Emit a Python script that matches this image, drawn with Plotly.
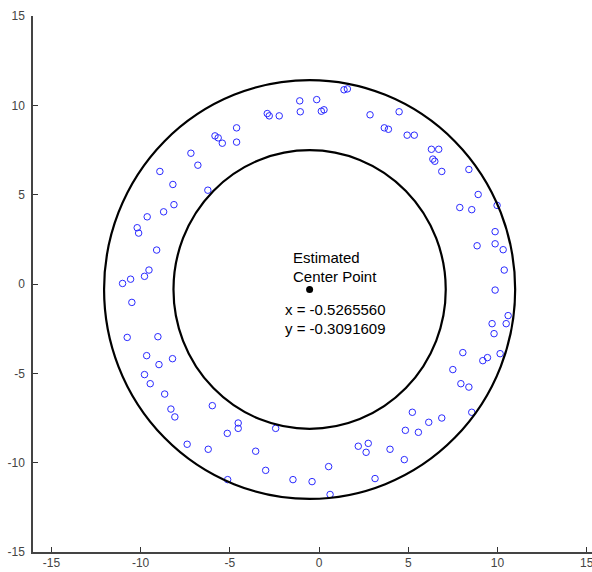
import plotly.graph_objects as go

# ---- data ----
pts_x = [-8.92, -7.18, -6.79, -8.19, 1.40, 1.59, -1.08, -0.13, -1.05, 0.13,
         0.28, -2.90, -2.79, -2.23, 2.86, 3.66, 3.89, 4.49, -4.62, -4.62,
         -5.83, -5.65, -5.42, -6.23, 4.94, 5.34, 6.30, 6.71, 6.38, 6.49,
         6.88, 8.40, 8.92, -8.13, -8.71, -9.63, -10.19, -10.11, -9.10, -9.53,
         -9.78, -10.56, -11.01, -10.49, -10.75, -9.03, -9.66, -8.21, -8.97, -9.78,
         -9.46, 7.89, 8.56, 9.98, 9.87, 8.86, 9.87, 10.32, 10.38, 9.87,
         10.60, 10.49, 9.70, 9.81, 8.06, 10.15, 9.18, 9.44, 7.50, 7.95,
         8.40, -8.65, -8.30, -8.08, -7.39, -5.98, -4.53, -4.53, -5.14, -2.43,
         -6.21, -3.55, -2.99, -5.12, -1.46, -0.39, 0.54, 0.62, 2.20, 2.76,
         2.64, 3.14, 3.98, 5.23, 6.88, 6.15, 8.56, 4.84, 5.57, 4.78]
pts_y = [6.30, 7.32, 6.65, 5.57, 10.87, 10.92, 10.25, 10.32, 9.64, 9.67,
         9.75, 9.54, 9.41, 9.41, 9.47, 8.74, 8.66, 9.64, 8.74, 7.94,
         8.29, 8.18, 7.88, 5.25, 8.33, 8.33, 7.54, 7.54, 6.99, 6.87,
         6.30, 6.41, 5.01, 4.44, 4.04, 3.76, 3.15, 2.85, 1.90, 0.78,
         0.43, 0.27, 0.03, -1.03, -2.99, -2.95, -4.01, -4.18, -4.51, -5.07,
         -5.58, 4.28, 4.16, 4.40, 2.93, 2.14, 2.25, 1.92, 0.78, -0.34,
         -1.77, -2.22, -2.22, -2.78, -3.84, -3.90, -4.29, -4.12, -4.79, -5.58,
         -5.77, -6.16, -7.00, -7.44, -8.97, -6.81, -7.78, -8.08, -8.36, -8.08,
         -9.25, -9.36, -10.43, -10.95, -10.95, -11.06, -10.22, -11.78, -9.08, -8.92,
         -9.42, -10.89, -9.25, -7.18, -7.50, -7.74, -7.18, -8.19, -8.30, -9.83]

center_x = -0.5265560
center_y = -0.3091609
outer_radius_x = 11.52
outer_radius_y = 11.72
inner_radius_x = 7.63
inner_radius_y = 7.80

tick_values = [-15, -10, -5, 0, 5, 10, 15]
tick_labels = ["-15", "-10", "-5", "0", "5", "10", "15"]

label_lines = ["Estimated", "Center Point",
               "x = %.7f" % center_x, "y = %.7f" % center_y]
label_x = [-1.50, -1.54, -1.99, -1.97]
label_y = [1.50, 0.41, -1.42, -2.49]

FONT = "Liberation Sans, Arial, sans-serif"

fig = go.Figure()

fig.add_trace(go.Scatter(
    x=pts_x, y=pts_y, mode="markers",
    marker=dict(symbol="circle-open", size=6.5, color="#2a2aff",
                line=dict(width=1, color="#2a2aff")),
    hoverinfo="skip", showlegend=False))

fig.add_trace(go.Scatter(
    x=[center_x], y=[center_y], mode="markers",
    marker=dict(symbol="circle", size=7, color="black"),
    hoverinfo="skip", showlegend=False))

for rx, ry in [(outer_radius_x, outer_radius_y), (inner_radius_x, inner_radius_y)]:
    fig.add_shape(type="circle", xref="x", yref="y",
                  x0=center_x - rx, x1=center_x + rx,
                  y0=center_y - ry, y1=center_y + ry,
                  line=dict(color="black", width=2.2), layer="above")

for txt, tx, ty in zip(label_lines, label_x, label_y):
    fig.add_annotation(x=tx, y=ty, xref="x", yref="y", text=txt,
                       showarrow=False, xanchor="left", yanchor="middle",
                       borderpad=0,
                       font=dict(family=FONT, size=15, color="black"))

axis_common = dict(
    tickvals=tick_values, ticktext=tick_labels,
    ticks="inside", ticklen=5, tickwidth=1, tickcolor="#333333",
    showline=True, linecolor="#444444", linewidth=1.5,
    showgrid=False, zeroline=False, automargin=False,
    tickfont=dict(family=FONT, size=12, color="#444444"),
    ticklabeloverflow="allow",
    fixedrange=True,
)

fig.update_layout(
    width=592, height=572,
    margin=dict(l=33, r=0, t=16, b=20, pad=0),
    paper_bgcolor="white", plot_bgcolor="white",
    xaxis=dict(range=[-16.03, 15.30], ticklabelstandoff=-1, **axis_common),
    yaxis=dict(range=[-15, 15], ticklabelstandoff=4, **axis_common),
    showlegend=False,
)

fig.write_html("out.html",
               config={"displayModeBar": False},
               post_script="document.body.style.margin='0';"
                           "document.body.style.overflow='hidden';")
